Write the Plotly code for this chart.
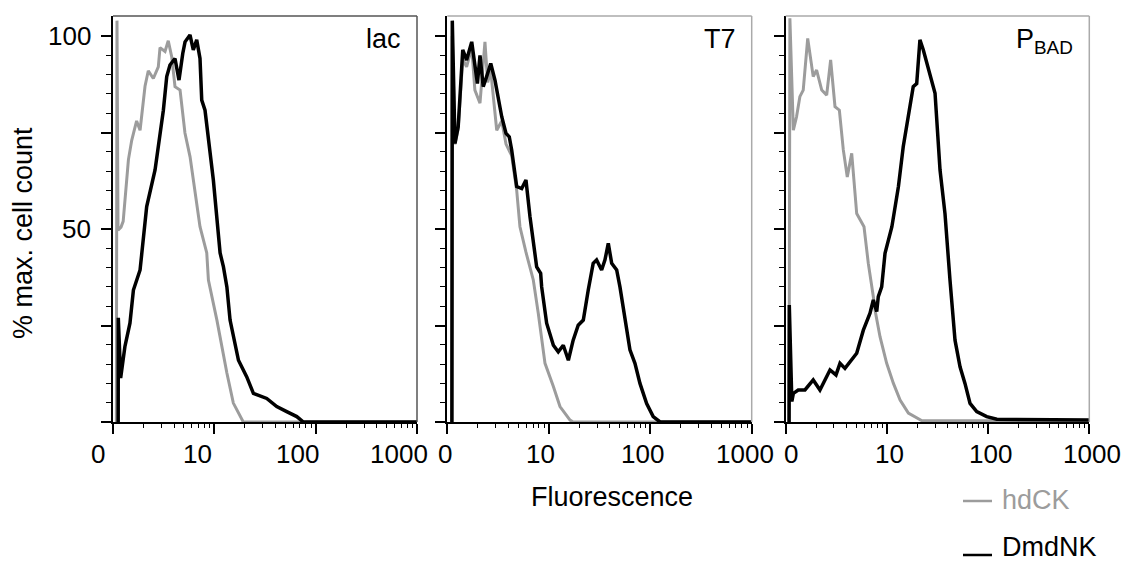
import math
import plotly.graph_objects as go

# ---------------- data ----------------
panel_names = ["lac", "T7", "P<sub>BAD</sub>"]
x_tick_labels = ["0", "10", "100", "1000"]
x_tick_values = [1, 10, 100, 1000]
y_tick_labels = ["50", "100"]
y_tick_values = [50, 100]
series_names = ["hdCK", "DmdNK"]

lac_hdck_x = [1.08, 1.095, 1.12, 1.20, 1.26, 1.42, 1.53, 1.71, 1.85, 2.07, 2.23, 2.50, 2.80, 2.91,
              3.26, 3.51, 3.80, 4.09, 4.59, 5.13, 5.76, 7.22, 8.42, 8.74, 10.6, 13.3, 15.4, 19.3, 1000]
lac_hdck_y = [0, 104, 49.7, 50.5, 52, 68, 73, 78, 75.6, 87, 91, 89, 92, 97,
              96, 98.8, 94.6, 86.9, 86, 74.9, 68.7, 50.6, 43.8, 36.8, 26.4, 12.7, 4.9, 0, 0]

lac_dmdnk_x = [1.125, 1.128, 1.19, 1.31, 1.47, 1.59, 1.85, 2.15, 2.60, 3.14, 3.39, 3.65, 4.09, 4.48,
               4.88, 5.14, 5.75, 6.20, 6.70, 7.22, 7.51, 8.09, 9.78, 11.4, 12.3, 13.3, 14.3, 17.3,
               20.9, 24.3, 32.9, 41.3, 51.8, 65.1, 75.6, 1000]
lac_dmdnk_y = [0, 27, 11.4, 19.5, 25.6, 34.2, 39.4, 55.8, 65.3, 80.8, 89.5, 92.5, 94.2, 88.6,
               95.5, 98.5, 100.3, 96.4, 99, 94.2, 83.4, 80.8, 62.7, 43.8, 40.2, 35, 26.4, 16,
               11.7, 7.4, 6.1, 4, 2.7, 1.4, 0, 0]

t7_hdck_x = [1.11, 1.12, 1.19, 1.28, 1.42, 1.55, 1.74, 1.87, 2.10, 2.35, 2.50, 2.68, 3.07, 3.44,
             3.79, 4.31, 4.83, 5.20, 5.96, 7.04, 7.88, 9.18, 11.1, 12.9, 16.2, 17.4, 1000]
t7_hdck_y = [0, 100, 72, 76, 94, 92, 97, 86, 82.6, 98.5, 88, 91, 75.6, 78,
             72, 69, 60, 50.6, 44, 36.8, 28.2, 15.2, 9.2, 4, 0.5, 0, 0]

t7_dmdnk_x = [1.11, 1.12, 1.19, 1.28, 1.42, 1.55, 1.74, 1.87, 1.98, 2.10, 2.26, 2.44, 2.68, 2.95,
              3.18, 3.44, 3.79, 4.08, 4.31, 4.83, 5.41, 5.96, 6.53, 7.60, 8.32, 8.51, 9.53, 11.1,
              12.4, 13.9, 15.6, 17.4, 19.5, 21.9, 24.5, 27.4, 29.6, 33.2, 35.8, 38.6, 41.7, 46.7,
              50.3, 56.3, 63.1, 70.7, 79.2, 92.2, 107, 125, 1000]
t7_dmdnk_y = [0, 104, 72.2, 76.5, 96.4, 93.8, 98.5, 92, 87.7, 95, 86.9, 89.5, 92.9, 88.6,
              84.3, 79.1, 74.8, 73.9, 70.5, 61, 60.5, 62.7, 53.2, 40.2, 38.5, 35, 25.6, 19.9,
              18.2, 19.9, 16, 21.2, 25.1, 26.4, 34.2, 41.1, 42, 39.4, 42, 46.3, 41.1, 39.4,
              35, 27.3, 18.7, 15.2, 10, 4.8, 1.4, 0, 0]

pbad_hdck_x = [1.08, 1.10, 1.19, 1.28, 1.38, 1.49, 1.65, 1.87, 2.02, 2.27, 2.54, 2.78, 3.07, 3.39,
               3.71, 4.06, 4.49, 5.03, 5.94, 6.55, 7.34, 7.63, 8.55, 9.95, 11.6, 13.5, 16.3, 19.7,
               22, 1000]
pbad_hdck_y = [0, 104.6, 75.6, 79.1, 84.3, 86, 99.4, 89.5, 91.2, 86, 84.7, 93.8, 81.7, 80.8,
               70.5, 63.5, 69.6, 54, 50.6, 41.1, 32.5, 29, 22.1, 15.2, 10, 5.7, 2.3, 1,
               0.4, 0.3]

pbad_dmdnk_x = [1.08, 1.085, 1.15, 1.19, 1.33, 1.55, 1.87, 2.18, 2.74, 3.14, 3.44, 3.85, 5.03, 5.85,
                6.81, 7.34, 7.93, 8.22, 8.88, 9.58, 11.2, 13.0, 14.5, 16.3, 18.2, 19.7, 21.2, 22.9,
                25.6, 27.7, 29.9, 33.5, 37.5, 42.0, 47.1, 52.8, 59.1, 66.3, 77.2, 96.9, 122, 1000]
pbad_dmdnk_y = [0, 30.3, 5.3, 7.4, 8.3, 8.3, 10.9, 8.3, 13.5, 12.2, 15.2, 13.9, 17.8, 23.8,
                28.2, 31.6, 28.6, 32.5, 35, 43.7, 50.6, 61, 71.3, 80, 86.9, 87.7, 99, 96.4,
                92, 88.6, 85.2, 65.3, 54, 36.8, 21.2, 14.3, 10, 4.8, 2.7, 1.4, 0.7, 0.5]

panels = [
    (lac_hdck_x, lac_hdck_y, lac_dmdnk_x, lac_dmdnk_y),
    (t7_hdck_x, t7_hdck_y, t7_dmdnk_x, t7_dmdnk_y),
    (pbad_hdck_x, pbad_hdck_y, pbad_dmdnk_x, pbad_dmdnk_y),
]

# ---------------- styling ----------------
W, H = 1125, 563
FONT = "Liberation Sans, Arial, sans-serif"
FS_TEXT = 27
FS_NUM = 26
GRAY = "#9c9c9c"
BLACK = "#000000"

x_domains = [(113 / W, 417 / W), (447.3 / W, 751.7 / W), (785.7 / W, 1089.3 / W)]
y_domain = (1 - 422 / H, 1 - 16 / H)
border_colors = ["#555555", "#aaaaaa", "#aaaaaa"]
# horizontal pixel offsets of the x tick labels relative to their ticks (as in the original)
label_shifts = [[-15, -17, -18, -18], [-2, -8, -8, -7], [5, 3, 2, 3]]

fig = go.Figure()
minor_x = [v * m for v in (1, 10, 100) for m in range(2, 10)]

for i, (hx, hy, dx, dy) in enumerate(panels):
    xa = "x" if i == 0 else f"x{i+1}"
    ya = "y" if i == 0 else f"y{i+1}"
    fig.add_trace(go.Scatter(x=hx, y=hy, mode="lines", xaxis=xa, yaxis=ya,
                             line=dict(color=GRAY, width=3), showlegend=False,
                             name=series_names[0]))
    fig.add_trace(go.Scatter(x=dx, y=dy, mode="lines", xaxis=xa, yaxis=ya,
                             line=dict(color=BLACK, width=3.5), showlegend=False,
                             name=series_names[1]))
    xkey = "xaxis" if i == 0 else f"xaxis{i+1}"
    ykey = "yaxis" if i == 0 else f"yaxis{i+1}"
    fig.update_layout(**{
        xkey: dict(domain=list(x_domains[i]), anchor=ya, type="log", range=[0, 3],
                   showgrid=False, zeroline=False, showline=True, linecolor=BLACK, linewidth=2,
                   ticks="outside", tickvals=x_tick_values, ticklen=10, tickwidth=1.5,
                   tickcolor=BLACK, showticklabels=False,
                   minor=dict(tickvals=minor_x, ticks="outside", ticklen=4, tickwidth=1.2,
                              tickcolor=BLACK)),
        ykey: dict(domain=list(y_domain), anchor=xa, range=[0, 105.2],
                   showgrid=False, zeroline=False, showline=True, linecolor=BLACK, linewidth=2,
                   ticks="outside", tickvals=[0, 25, 50, 75, 100], ticklen=10, tickwidth=1.5,
                   tickcolor=BLACK, showticklabels=False,
                   minor=dict(tickvals=list(range(0, 101, 5)), ticks="outside", ticklen=5,
                              tickwidth=1.2, tickcolor=BLACK)),
    })
    # top and right frame lines
    fig.add_shape(type="line", xref=f"{xa} domain", yref=f"{ya} domain",
                  x0=0, x1=1, y0=1, y1=1, line=dict(color=border_colors[i], width=1.5))
    fig.add_shape(type="line", xref=f"{xa} domain", yref=f"{ya} domain",
                  x0=1, x1=1, y0=0, y1=1, line=dict(color=border_colors[i], width=1.5))
    # panel name
    fig.add_annotation(text=panel_names[i], xref=f"{xa} domain", yref=f"{ya} domain",
                       x=1, y=1, xanchor="right", yanchor="top", xshift=-14, yshift=-6,
                       showarrow=False, font=dict(family=FONT, size=FS_TEXT, color=BLACK))
    # x tick labels
    for k, (v, t) in enumerate(zip(x_tick_values, x_tick_labels)):
        fig.add_annotation(text=t, xref=xa, yref="paper", x=math.log10(v),
                           y=1 - 454 / H, xanchor="center", yanchor="middle",
                           xshift=label_shifts[i][k],
                           showarrow=False, font=dict(family=FONT, size=FS_NUM, color=BLACK))

# y tick labels (first panel only)
for v, t in zip(y_tick_values, y_tick_labels):
    fig.add_annotation(text=t, xref="paper", yref="y", x=93 / W, y=v, xanchor="right",
                       yanchor="middle", showarrow=False,
                       font=dict(family=FONT, size=FS_NUM, color=BLACK))

# axis titles
fig.add_annotation(text="% max. cell count", xref="paper", yref="paper", x=23 / W,
                   y=1 - 233 / H, textangle=-90, xanchor="center", yanchor="middle",
                   showarrow=False, font=dict(family=FONT, size=FS_TEXT, color=BLACK))
fig.add_annotation(text="Fluorescence", xref="paper", yref="paper", x=612 / W,
                   y=1 - 497 / H, xanchor="center", yanchor="middle",
                   showarrow=False, font=dict(family=FONT, size=FS_TEXT, color=BLACK))

# legend
for name, col, ly, lline in [(series_names[0], GRAY, 500, 501), (series_names[1], BLACK, 547, 555)]:
    fig.add_shape(type="line", xref="paper", yref="paper", x0=963 / W, x1=992 / W,
                  y0=1 - lline / H, y1=1 - lline / H, line=dict(color=col, width=2.5))
    fig.add_annotation(text=name, xref="paper", yref="paper", x=1000 / W, y=1 - ly / H,
                       xanchor="left", yanchor="middle", showarrow=False,
                       font=dict(family=FONT, size=FS_TEXT, color=col))

fig.update_layout(width=W, height=H, margin=dict(l=0, r=0, t=0, b=0),
                  paper_bgcolor="white", plot_bgcolor="white", showlegend=False)

fig.write_html("out.html", config={"displayModeBar": False},
               post_script="document.body.style.margin='0';document.body.style.padding='0';"
                           "document.documentElement.style.overflow='hidden';")
